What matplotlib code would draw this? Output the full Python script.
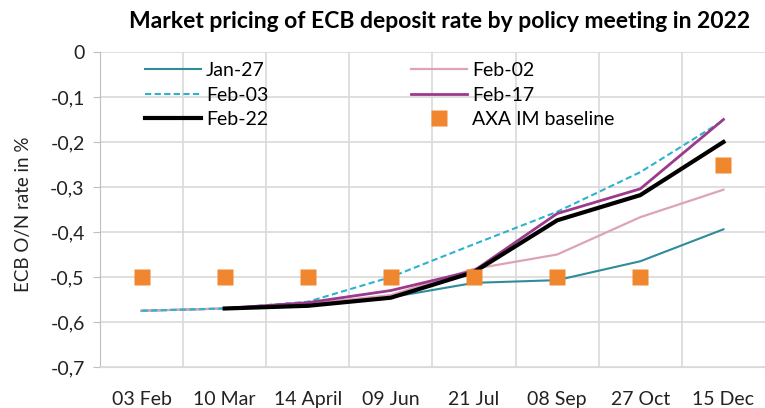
import matplotlib
matplotlib.use("Agg")
import matplotlib.pyplot as plt
import numpy as np

plt.rcParams['font.family'] = ['Lato', 'DejaVu Sans']

categories = ["03 Feb", "10 Mar", "14 April", "09 Jun", "21 Jul", "08 Sep", "27 Oct", "15 Dec"]
jan27 = [-0.575, -0.570, -0.565, -0.545, -0.513, -0.507, -0.465, -0.394]
feb02 = [-0.575, -0.570, -0.560, -0.540, -0.482, -0.450, -0.367, -0.306]
feb03 = [-0.575, -0.570, -0.555, -0.500, -0.427, -0.355, -0.267, -0.152]
feb17 = [None, -0.570, -0.557, -0.530, -0.486, -0.359, -0.304, -0.150]
feb22 = [None, -0.570, -0.564, -0.546, -0.489, -0.374, -0.318, -0.200]
axa = [-0.50, -0.50, -0.50, -0.50, -0.50, -0.50, -0.50, -0.25]
yticks = [0, -0.1, -0.2, -0.3, -0.4, -0.5, -0.6, -0.7]
ytick_labels = ["0", "-0,1", "-0,2", "-0,3", "-0,4", "-0,5", "-0,6", "-0,7"]


def arr(v):
    return np.array([np.nan if x is None else x for x in v], dtype=float)


fig = plt.figure(figsize=(7.65, 4.08), dpi=100)
ax = fig.add_axes([0.1307, 0.1005, 0.8693, 0.772])
x = np.arange(len(categories))

l1, = ax.plot(x, arr(jan27), color="#2E8C9B", lw=1.5, label="Jan-27")
l2, = ax.plot(x, arr(feb02), color="#DDA3B7", lw=1.6, label="Feb-02")
l3, = ax.plot(x, arr(feb03), color="#2DB3CC", lw=1.5, ls=(0, (3, 1.6)), label="Feb-03")
l4, = ax.plot(x, arr(feb17), color="#9B3A8D", lw=2.0, label="Feb-17")
l5, = ax.plot(x, arr(feb22), color="#000000", lw=3.0, label="Feb-22")
l6, = ax.plot(x, arr(axa), ls="none", marker="s", ms=11, color="#F0872F", mec="none", label="AXA IM baseline")

ax.set_xlim(-0.5, len(categories) - 0.5)
ax.set_ylim(-0.7, 0)
ax.set_yticks(yticks)
ax.set_yticklabels(ytick_labels)
ax.set_xticks(x)
ax.set_xticklabels(categories)
ax.set_xticks(np.arange(0.5, len(categories) - 0.5, 1), minor=True)
ax.tick_params(axis='x', which='both', length=0, labelsize=14, pad=17, colors='#222222')
ax.tick_params(axis='y', length=5, color='#BFBFBF', labelsize=14, pad=6, colors='#222222')
ax.grid(axis='y', color='#D9D9D9', lw=1.2)
ax.grid(axis='x', which='minor', color='#D9D9D9', lw=1.2)
ax.set_axisbelow(True)
for s in ['top', 'right']:
    ax.spines[s].set_visible(False)
ax.spines['left'].set_color('#BFBFBF')
ax.spines['bottom'].set_color('#D9D9D9')

fig.text(0.031, 0.475, "ECB O/N rate in %", rotation=90, ha='center', va='center',
         fontsize=13.5, color='#222222')
fig.text(0.575, 0.948, "Market pricing of ECB deposit rate by policy meeting in 2022",
         ha='center', va='center', fontsize=16.5, fontweight='bold')

ax.legend(handles=[l1, l3, l5, l2, l4, l6], ncol=2, loc='upper left',
          bbox_to_anchor=(0.053, 1.0), frameon=False, fontsize=14, borderpad=0,
          handlelength=2.9, handletextpad=0.25, columnspacing=7.3, labelspacing=0.4)

fig.savefig("out.png", dpi=100)
